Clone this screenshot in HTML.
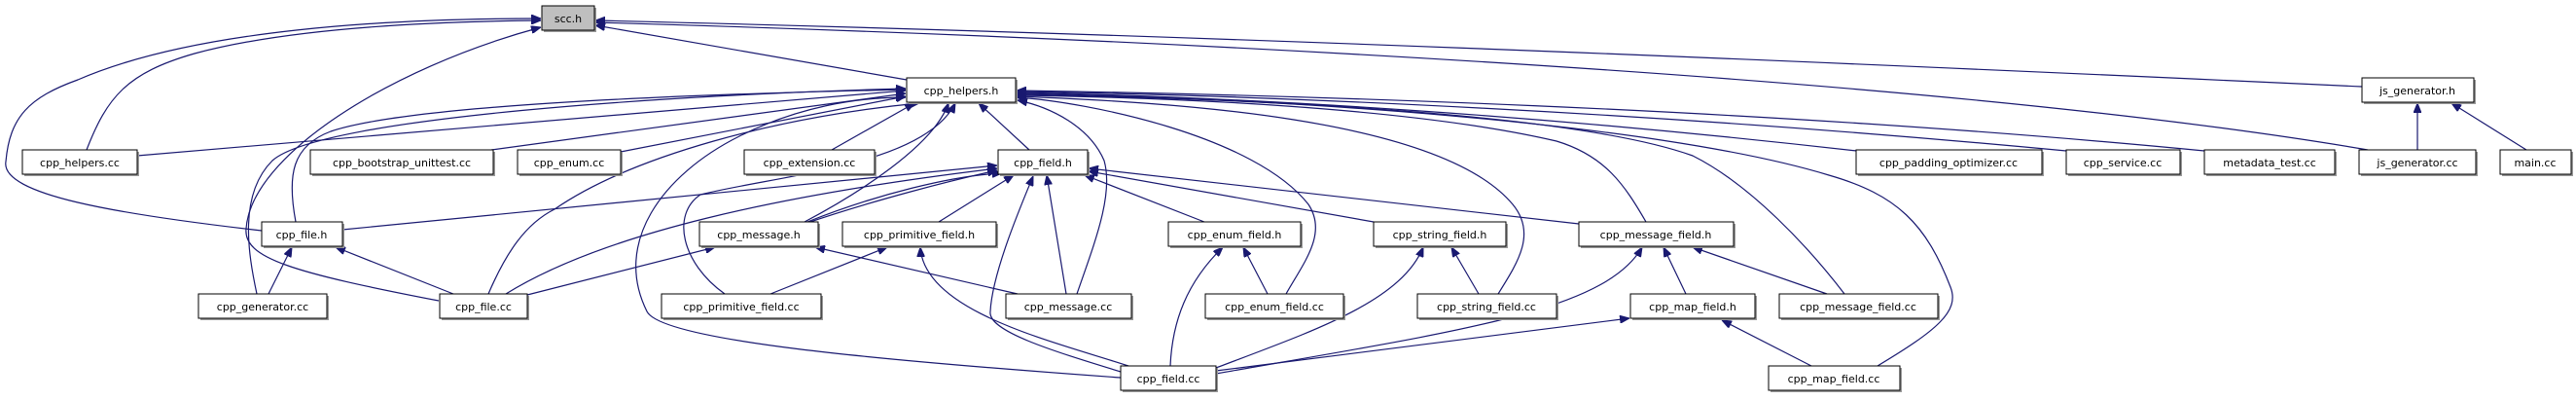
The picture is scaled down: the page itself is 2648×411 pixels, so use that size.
<!DOCTYPE html>
<html><head><meta charset="utf-8"><style>
html,body{margin:0;padding:0;background:#fff;}
svg{display:block;}
text{font-family:"DejaVu Sans","Liberation Sans",sans-serif;font-size:11px;fill:#000;}
.e{fill:none;stroke:#191970;stroke-width:1.2;}
.n{fill:#fff;stroke:#000;stroke-width:1;}
.s{fill:#999;}
</style></head><body>
<svg width="2648" height="411" viewBox="0 0 2648 411" xmlns="http://www.w3.org/2000/svg">
<defs>
<marker id="a" viewBox="0 0 10 8" refX="10" refY="4" markerWidth="10" markerHeight="8" markerUnits="userSpaceOnUse" orient="auto">
<path d="M0,0 L10,4 L0,8 z" fill="#191970" stroke="#191970"/>
</marker>
</defs>
<g class="e" marker-end="url(#a)">
<!-- to scc.h -->
<path d="M89,154 C110,100 130,75 200,55 C300,28 450,22 556,21"/>
<path d="M269,237 C120,220 0,200 6,166 C10,120 30,100 80,82 C200,30 400,19 556,19"/>
<path d="M451,309 C300,280 250,265 253,235 C258,160 400,70 556,28"/>
<path d="M932,82 L612,26"/>
<path d="M2428,89 C1800,60 1200,35 612,21"/>
<path d="M2434,154 C2000,80 1200,40 612,23"/>
<!-- to cpp_helpers.h -->
<path d="M141,160 L931,93"/>
<path d="M505,154 L931,96"/>
<path d="M638,156 L931,99"/>
<path d="M855,154 L940,106"/>
<path d="M304,228 C295,180 300,150 340,135 C420,108 700,97 931,92"/>
<path d="M264,302 C255,260 245,200 280,165 C330,120 700,97 931,91"/>
<path d="M502,302 C520,260 540,230 570,215 C650,160 800,120 945,106"/>
<path d="M827,228 C880,200 960,150 975,106"/>
<path d="M745,302 C700,270 690,220 720,200 C800,180 950,170 982,106"/>
<path d="M1152,388 C900,370 680,350 665,320 C630,250 680,180 760,140 C820,110 880,100 931,100"/>
<path d="M1058,154 L1006,106"/>
<path d="M1107,302 C1125,250 1145,200 1135,165 C1120,130 1080,110 1046,103"/>
<path d="M1322,302 C1340,270 1365,240 1345,210 C1290,140 1120,105 1045,100"/>
<path d="M1540,302 C1560,270 1580,240 1555,210 C1480,120 1200,105 1045,99"/>
<path d="M1692,228 C1670,190 1650,160 1600,145 C1450,110 1200,100 1045,98"/>
<path d="M1896,302 C1860,255 1800,190 1740,160 C1600,110 1200,100 1045,97"/>
<path d="M1930,376 C1990,340 2015,320 2005,295 C1980,230 1950,200 1880,180 C1700,125 1300,100 1045,96"/>
<path d="M1908,155 C1600,120 1300,100 1045,95"/>
<path d="M2124,155 C1700,115 1300,98 1045,94"/>
<path d="M2266,155 C1800,110 1300,97 1045,93"/>
<!-- to cpp_field.h -->
<path d="M352,236 L1025,170"/>
<path d="M520,302 C620,240 800,200 1025,173"/>
<path d="M827,230 C900,205 980,185 1025,175"/>
<path d="M830,228 C900,200 980,180 1030,178"/>
<path d="M965,228 L1042,180"/>
<path d="M1152,382 C1080,360 1015,340 1018,320 C1020,280 1050,210 1062,181"/>
<path d="M1096,302 L1076,180"/>
<path d="M1238,228 L1115,180"/>
<path d="M1412,228 L1119,176"/>
<path d="M1623,230 L1119,173"/>
<!-- others -->
<path d="M276,302 L300,254"/>
<path d="M466,302 L345,254"/>
<path d="M542,303 L735,254"/>
<path d="M1046,302 L838,254"/>
<path d="M792,302 L912,254"/>
<path d="M1160,376 C1080,350 950,320 946,254"/>
<path d="M1203,376 C1205,330 1220,290 1257,254"/>
<path d="M1303,302 L1278,254"/>
<path d="M1250,378 C1350,340 1440,310 1463,254"/>
<path d="M1520,302 L1492,254"/>
<path d="M1250,384 C1500,340 1650,320 1688,254"/>
<path d="M1733,302 L1710,254"/>
<path d="M1878,302 L1740,254"/>
<path d="M1250,381 L1675,327"/>
<path d="M1862,376 L1770,329"/>
<path d="M2485,154 L2485,106"/>
<path d="M2597,154 L2520,106"/>
</g>
<g>
<rect class="s" x="559" y="8" width="54" height="25"/><rect x="557" y="6" width="54" height="25" fill="#bfbfbf" stroke="#000"/><text x="584" y="23" text-anchor="middle">scc.h</text>
</g>
<g id="nodes">
<rect class="s" x="934" y="82" width="112" height="25"/><rect class="n" x="932" y="80" width="112" height="25"/><text x="988" y="97" text-anchor="middle">cpp_helpers.h</text>
<rect class="s" x="2430" y="82" width="115" height="25"/><rect class="n" x="2428" y="80" width="115" height="25"/><text x="2485" y="97" text-anchor="middle">js_generator.h</text>

<rect class="s" x="25" y="156" width="118" height="25"/><rect class="n" x="23" y="154" width="118" height="25"/><text x="82" y="171" text-anchor="middle">cpp_helpers.cc</text>
<rect class="s" x="321" y="156" width="188" height="25"/><rect class="n" x="319" y="154" width="188" height="25"/><text x="413" y="171" text-anchor="middle">cpp_bootstrap_unittest.cc</text>
<rect class="s" x="534" y="156" width="106" height="25"/><rect class="n" x="532" y="154" width="106" height="25"/><text x="585" y="171" text-anchor="middle">cpp_enum.cc</text>
<rect class="s" x="767" y="156" width="134" height="25"/><rect class="n" x="765" y="154" width="134" height="25"/><text x="832" y="171" text-anchor="middle">cpp_extension.cc</text>
<rect class="s" x="1028" y="156" width="92" height="25"/><rect class="n" x="1026" y="154" width="92" height="25"/><text x="1072" y="171" text-anchor="middle">cpp_field.h</text>
<rect class="s" x="1910" y="156" width="191" height="25"/><rect class="n" x="1908" y="154" width="191" height="25"/><text x="2003" y="171" text-anchor="middle">cpp_padding_optimizer.cc</text>
<rect class="s" x="2126" y="156" width="117" height="25"/><rect class="n" x="2124" y="154" width="117" height="25"/><text x="2182" y="171" text-anchor="middle">cpp_service.cc</text>
<rect class="s" x="2268" y="156" width="134" height="25"/><rect class="n" x="2266" y="154" width="134" height="25"/><text x="2333" y="171" text-anchor="middle">metadata_test.cc</text>
<rect class="s" x="2427" y="156" width="120" height="25"/><rect class="n" x="2425" y="154" width="120" height="25"/><text x="2485" y="171" text-anchor="middle">js_generator.cc</text>
<rect class="s" x="2572" y="156" width="73" height="25"/><rect class="n" x="2570" y="154" width="73" height="25"/><text x="2606" y="171" text-anchor="middle">main.cc</text>

<rect class="s" x="271" y="230" width="83" height="25"/><rect class="n" x="269" y="228" width="83" height="25"/><text x="310" y="245" text-anchor="middle">cpp_file.h</text>
<rect class="s" x="721" y="230" width="122" height="25"/><rect class="n" x="719" y="228" width="122" height="25"/><text x="780" y="245" text-anchor="middle">cpp_message.h</text>
<rect class="s" x="868" y="230" width="158" height="25"/><rect class="n" x="866" y="228" width="158" height="25"/><text x="945" y="245" text-anchor="middle">cpp_primitive_field.h</text>
<rect class="s" x="1203" y="230" width="136" height="25"/><rect class="n" x="1201" y="228" width="136" height="25"/><text x="1269" y="245" text-anchor="middle">cpp_enum_field.h</text>
<rect class="s" x="1414" y="230" width="136" height="25"/><rect class="n" x="1412" y="228" width="136" height="25"/><text x="1480" y="245" text-anchor="middle">cpp_string_field.h</text>
<rect class="s" x="1625" y="230" width="159" height="25"/><rect class="n" x="1623" y="228" width="159" height="25"/><text x="1702" y="245" text-anchor="middle">cpp_message_field.h</text>

<rect class="s" x="206" y="304" width="132" height="25"/><rect class="n" x="204" y="302" width="132" height="25"/><text x="270" y="319" text-anchor="middle">cpp_generator.cc</text>
<rect class="s" x="454" y="304" width="90" height="25"/><rect class="n" x="452" y="302" width="90" height="25"/><text x="497" y="319" text-anchor="middle">cpp_file.cc</text>
<rect class="s" x="682" y="304" width="164" height="25"/><rect class="n" x="680" y="302" width="164" height="25"/><text x="762" y="319" text-anchor="middle">cpp_primitive_field.cc</text>
<rect class="s" x="1036" y="304" width="129" height="25"/><rect class="n" x="1034" y="302" width="129" height="25"/><text x="1098" y="319" text-anchor="middle">cpp_message.cc</text>
<rect class="s" x="1241" y="304" width="142" height="25"/><rect class="n" x="1239" y="302" width="142" height="25"/><text x="1310" y="319" text-anchor="middle">cpp_enum_field.cc</text>
<rect class="s" x="1459" y="304" width="143" height="25"/><rect class="n" x="1457" y="302" width="143" height="25"/><text x="1528" y="319" text-anchor="middle">cpp_string_field.cc</text>
<rect class="s" x="1678" y="304" width="128" height="25"/><rect class="n" x="1676" y="302" width="128" height="25"/><text x="1740" y="319" text-anchor="middle">cpp_map_field.h</text>
<rect class="s" x="1831" y="304" width="163" height="25"/><rect class="n" x="1829" y="302" width="163" height="25"/><text x="1910" y="319" text-anchor="middle">cpp_message_field.cc</text>

<rect class="s" x="1154" y="378" width="98" height="25"/><rect class="n" x="1152" y="376" width="98" height="25"/><text x="1201" y="393" text-anchor="middle">cpp_field.cc</text>
<rect class="s" x="1820" y="378" width="135" height="25"/><rect class="n" x="1818" y="376" width="135" height="25"/><text x="1885" y="393" text-anchor="middle">cpp_map_field.cc</text>
</g>
</svg>
</body></html>
